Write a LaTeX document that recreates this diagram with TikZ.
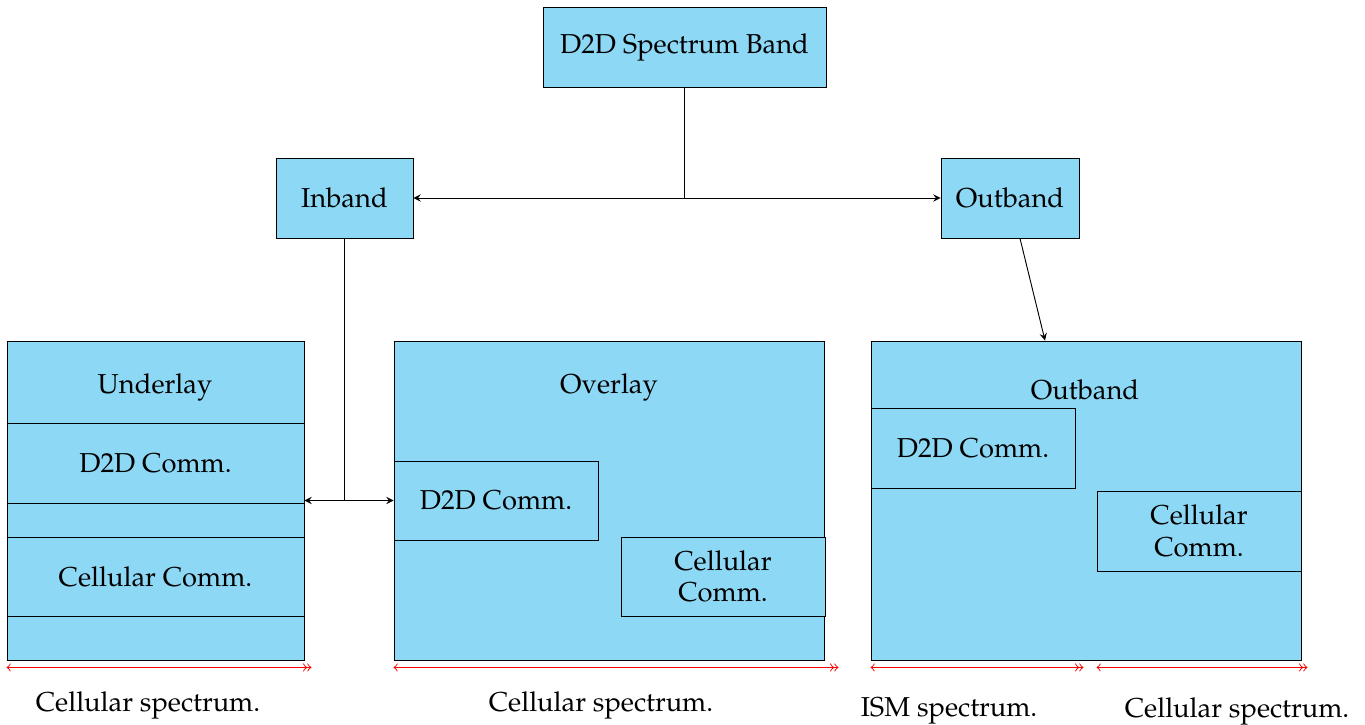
\documentclass[tikz,border=0pt]{standalone}
\usepackage[T1]{fontenc}
\usepackage{mathpazo}
\usepackage{tikz}
\usetikzlibrary{positioning,calc}

\definecolor{bandblue}{RGB}{140,216,245}
\newlength\px
\setlength\px{0.01517cm}

\tikzset{
  block/.style={draw,fill=bandblue,rectangle,inner sep=0pt,align=center},
  spec/.style={red,thin,<->>},
  link/.style={-stealth,thin}
}

\begin{document}
\begin{tikzpicture}[x=0.01517cm,y=-0.01517cm,font=\fontsize{11.8pt}{13.5pt}\selectfont]
    \useasboundingbox (0,0) rectangle (1365,725);
    % top level
    \node[block,minimum width=283\px,minimum height=80\px] (band)    at (684.5,47) {D2D Spectrum Band};
    \node[block,minimum width=137\px,minimum height=80\px] (inband)  at (344.5,198) {Inband};
    \node[block,minimum width=138\px,minimum height=80\px] (outband) at (1010,198) {Outband};
    % underlay
    \node[block,minimum width=297\px,minimum height=319\px] (under) at (155.5,500.5) {};
    \node (underT) at (155,387) {Underlay};
    \node[block,minimum width=297\px,minimum height=80\px] (underD2D)  at (155.5,463) {D2D Comm.};
    \node[block,minimum width=297\px,minimum height=79\px] (underCell) at (155.5,576.5) {Cellular Comm.};
    % overlay
    \node[block,minimum width=430\px,minimum height=319\px] (over) at (609,500.5) {};
    \node (overT) at (609,387) {Overlay};
    \node[block,minimum width=204\px,minimum height=79\px] (overD2D)  at (496,500.5) {D2D Comm.};
    \node[block,minimum width=204\px,minimum height=79\px] (overCell) at (723,576.5) {Cellular\\Comm.};
    % outband
    \node[block,minimum width=430\px,minimum height=319\px] (outB) at (1086,500.5) {};
    \node (outT) at (1085,390) {Outband};
    \node[block,minimum width=204\px,minimum height=80\px] (outD2D)  at (973,448) {D2D Comm.};
    \node[block,minimum width=204\px,minimum height=80\px] (outCell) at (1199,531) {Cellular\\Comm.};

    % connectors
    \coordinate (split) at (band.south |- inband.east);
    \draw (band.south) -- (split);
    \draw[link] (split) -- (inband.east);
    \draw[link] (split) -- (outband.west);
    \coordinate (join) at (inband.south |- overD2D.west);
    \draw (inband.south) -- (join);
    \draw[link] (join) -- (join -| under.east);
    \draw[link] (join) -- (overD2D.west);
    \coordinate (outS) at ($(outband.south)+(10,0)$);
    \coordinate (outE) at ($(outB.north)+(-41,0)$);
    \draw[link] (outS) -- (outE);

    % spectrum ranges
    \coordinate (a1) at ($(under.south west)+(0,7)$);
    \coordinate (a2) at ($(under.south east)+(7,7)$);
    \coordinate (b1) at ($(over.south west)+(0,7)$);
    \coordinate (b2) at ($(over.south east)+(14,7)$);
    \coordinate (c1) at ($(outB.south west)+(0,7)$);
    \coordinate (c2) at ($(outD2D.east |- outB.south)+(8,7)$);
    \coordinate (d1) at ($(outCell.west |- outB.south)+(0,7)$);
    \coordinate (d2) at ($(outB.south east)+(6,7)$);
    \draw[spec] (a1) -- (a2);
    \draw[spec] (b1) -- (b2);
    \draw[spec] (c1) -- (c2);
    \draw[spec] (d1) -- (d2);
    \node (underS) at (148,705) {Cellular spectrum.};
    \node (overS)  at (601,705) {Cellular spectrum.};
    \node (ismS)   at (949,711) {ISM spectrum.};
    \node (cellS)  at (1237,711) {Cellular spectrum.};
\end{tikzpicture}
\end{document}
